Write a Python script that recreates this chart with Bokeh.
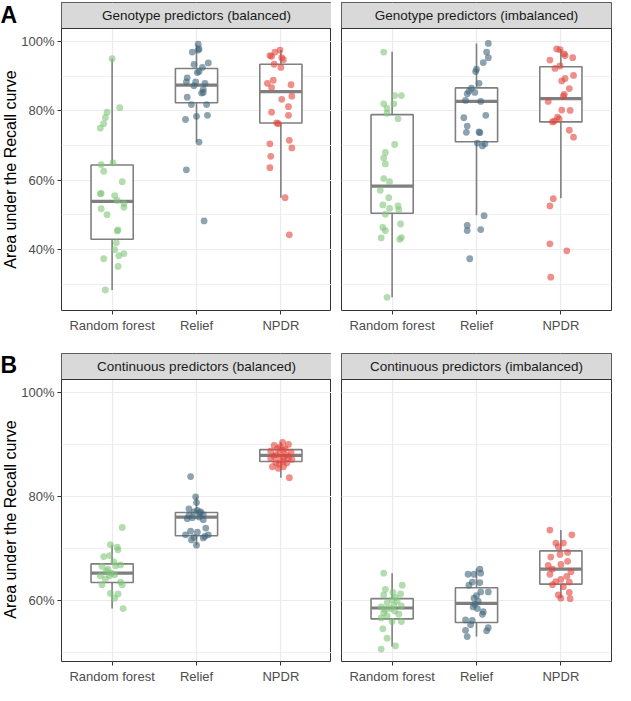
import math
from bokeh.plotting import figure
from bokeh.layouts import row, column
from bokeh.models import Range1d, FixedTicker, Span, PrintfTickFormatter
from bokeh.embed import file_html
from bokeh.resources import INLINE
from bokeh.core.properties import value

methods = ["Random forest", "Relief", "NPDR"]
facet_titles = ["Genotype predictors (balanced)", "Genotype predictors (imbalanced)",
                "Continuous predictors (balanced)", "Continuous predictors (imbalanced)"]
row_letters = ["A", "B"]
y_title = "Area under the Recall curve"

# ---- Genotype predictors (balanced): AUPRC in %, with horizontal jitter (category units)
gb_rf = [95.0, 80.9, 79.6, 78.1, 76.3, 75.0, 65.0, 64.5, 62.6, 59.6, 56.2, 56.1, 55.6, 54.2, 53.3,
         52.2, 51.8, 50.1, 45.7, 45.4, 42.0, 40.0, 38.9, 38.3, 37.4, 35.2, 28.4]
gb_rf_jit = [0.00, 0.09, -0.06, -0.08, -0.10, -0.14, 0.01, -0.13, -0.10, 0.12, -0.13, -0.14, 0.03, 0.06, 0.14,
             0.14, -0.13, -0.06, 0.07, 0.06, 0.05, 0.03, 0.14, 0.08, -0.10, 0.07, -0.08]
gb_rl = [99.2, 97.8, 97.5, 96.9, 93.8, 93.4, 92.5, 91.3, 91.0, 89.5, 88.3, 88.3, 87.9, 87.2, 86.2,
         85.3, 85.1, 83.9, 81.8, 81.8, 78.7, 78.4, 77.5, 71.0, 63.0, 48.3]
gb_rl_jit = [0.02, 0.03, 0.02, -0.05, 0.14, -0.03, 0.07, 0.03, 0.01, -0.11, -0.12, -0.01, 0.10, -0.03, 0.08,
             0.08, 0.06, -0.11, -0.06, 0.12, 0.13, 0.00, -0.13, 0.03, -0.12, 0.09]
gb_np = [97.5, 96.9, 95.9, 95.7, 95.3, 94.7, 93.4, 92.5, 88.8, 87.9, 87.5, 86.7, 84.2, 83.3, 81.2,
         79.6, 78.7, 76.5, 76.3, 71.5, 70.5, 69.3, 66.9, 63.6, 55.0, 44.3]
gb_np_jit = [-0.01, -0.07, -0.13, -0.11, 0.01, 0.03, -0.08, 0.00, -0.09, -0.16, 0.12, -0.11, 0.13, 0.01, 0.09,
             -0.11, 0.09, -0.05, -0.03, 0.10, -0.13, 0.13, -0.12, -0.13, 0.05, 0.10]
gb_lo = [28.4, 71.0, 55.0]
gb_q1 = [43.0, 82.3, 76.5]
gb_med = [53.9, 87.4, 85.5]
gb_q3 = [64.4, 92.2, 93.4]
gb_hi = [95.0, 99.2, 97.5]

# ---- Genotype predictors (imbalanced)
gi_rf = [96.9, 84.4, 84.4, 82.0, 82.0, 80.7, 79.3, 77.7, 70.3, 68.0, 66.4, 64.7, 60.5, 59.6, 57.1,
         55.0, 52.9, 52.6, 51.9, 51.5, 50.2, 47.4, 46.4, 45.5, 43.5, 43.4, 43.0, 26.3]
gi_rf_jit = [-0.10, 0.03, 0.11, -0.10, 0.02, -0.06, -0.06, 0.07, 0.03, -0.08, -0.10, -0.08, -0.10, -0.03, -0.14,
             -0.04, -0.11, 0.07, -0.03, 0.08, -0.08, 0.10, -0.11, -0.08, 0.11, -0.13, 0.09, -0.06]
gi_rl = [99.4, 96.9, 95.3, 93.9, 92.0, 91.3, 87.9, 86.5, 85.6, 85.3, 84.9, 83.0, 82.7, 78.7, 78.0,
         75.6, 73.9, 73.8, 73.7, 70.7, 70.5, 69.9, 49.8, 47.0, 45.8, 45.5, 37.4]
gi_rl_jit = [0.14, 0.12, 0.14, 0.08, 0.00, -0.01, 0.03, -0.06, -0.09, -0.02, -0.11, -0.13, 0.05, 0.11, -0.15,
             -0.11, 0.03, -0.12, 0.04, 0.01, 0.10, 0.07, 0.09, -0.11, 0.05, -0.11, -0.08]
gi_np = [97.8, 97.6, 96.4, 95.9, 95.3, 94.6, 92.9, 92.2, 90.2, 89.3, 88.6, 86.4, 84.7, 84.2, 82.7,
         80.2, 80.1, 78.2, 77.7, 77.0, 76.8, 74.4, 72.4, 54.7, 52.6, 41.7, 39.7, 32.1]
gi_np_jit = [-0.05, -0.01, 0.04, 0.05, 0.14, -0.13, -0.01, -0.07, 0.15, 0.05, 0.01, 0.10, 0.04, 0.03, -0.15,
             0.01, 0.11, -0.04, -0.02, -0.08, -0.10, 0.10, 0.15, -0.09, -0.13, -0.13, 0.07, -0.12]
gi_lo = [26.3, 49.9, 54.8]
gi_q1 = [50.5, 71.1, 76.8]
gi_med = [58.3, 82.7, 83.5]
gi_q3 = [78.9, 86.6, 92.7]
gi_hi = [97.0, 99.4, 97.8]

# ---- Continuous predictors (balanced)
cb_rf = [74.0, 70.7, 70.2, 69.7, 68.6, 68.4, 67.4, 66.8, 66.6, 66.5, 66.0, 65.6, 65.2, 64.9, 64.7,
         64.7, 64.1, 63.5, 63.0, 63.0, 61.3, 61.2, 60.4, 58.4]
cb_rf_jit = [0.12, -0.02, 0.06, 0.07, -0.03, -0.10, 0.02, 0.10, 0.04, -0.12, -0.05, -0.07, -0.01, 0.03, -0.03,
             -0.14, -0.08, 0.10, -0.12, 0.12, -0.02, 0.07, 0.03, 0.13]
cb_rl = [83.8, 79.9, 78.8, 77.6, 77.3, 77.0, 77.0, 76.8, 76.5, 76.3, 76.0, 75.9, 75.7, 75.5, 73.9,
         73.3, 73.1, 72.6, 72.6, 72.3, 72.1, 72.0, 71.6, 70.6]
cb_rl_jit = [-0.07, -0.01, 0.00, -0.09, 0.01, -0.03, 0.05, 0.04, 0.08, -0.09, 0.03, -0.05, -0.11, 0.08, 0.11,
             -0.07, 0.01, -0.13, 0.14, 0.10, -0.03, 0.08, -0.06, 0.00]
cb_np = [90.4, 90.0, 89.8, 89.5, 89.2, 89.2, 88.9, 88.7, 88.5, 88.2, 88.0, 87.9, 87.7, 87.6, 87.4,
         87.3, 87.1, 87.0, 86.8, 86.5, 86.4, 86.2, 85.7, 85.7, 85.4, 83.6]
cb_np_jit = [0.02, 0.09, -0.08, -0.01, -0.04, 0.05, 0.03, -0.12, 0.12, -0.01, -0.06, 0.07, -0.08, 0.03, 0.09,
             -0.12, 0.13, -0.01, 0.03, -0.06, 0.07, -0.02, -0.10, 0.03, -0.03, 0.10]
cb_lo = [58.4, 70.6, 83.6]
cb_q1 = [63.4, 72.4, 86.7]
cb_med = [65.2, 76.0, 87.9]
cb_q3 = [67.0, 76.9, 89.0]
cb_hi = [70.7, 79.9, 90.4]

# ---- Continuous predictors (imbalanced)
ci_rf = [65.2, 62.9, 62.1, 61.5, 61.2, 61.0, 60.5, 60.1, 59.8, 59.5, 59.0, 58.9, 58.7, 58.4, 58.2,
         57.9, 57.6, 57.3, 57.0, 56.6, 55.9, 55.9, 54.5, 52.7, 51.2, 50.6]
ci_rf_jit = [-0.10, 0.12, -0.08, 0.01, 0.10, -0.10, 0.04, 0.00, 0.06, -0.06, 0.02, 0.11, -0.13, -0.02, -0.08,
             0.03, -0.10, 0.08, -0.06, -0.13, 0.00, 0.11, -0.11, -0.06, 0.04, -0.13]
ci_rl = [66.0, 65.2, 65.0, 65.0, 63.5, 63.4, 62.9, 61.6, 61.6, 60.9, 60.4, 59.8, 59.2, 58.7, 58.4,
         57.8, 57.3, 56.2, 56.1, 55.3, 54.7, 54.2, 54.1, 53.0]
ci_rl_jit = [0.04, 0.05, -0.10, -0.03, -0.05, 0.04, -0.09, 0.14, 0.05, 0.00, -0.03, 0.02, -0.02, -0.04, 0.01,
             0.08, 0.07, -0.13, -0.05, -0.07, 0.14, -0.13, 0.12, -0.11]
ci_np = [73.5, 72.6, 71.0, 71.0, 70.3, 69.2, 68.8, 68.3, 67.5, 66.9, 66.7, 66.0, 65.5, 65.0, 64.6,
         64.0, 63.6, 63.5, 63.0, 62.6, 61.5, 61.0, 60.4, 60.3]
ci_np_jit = [-0.13, 0.13, -0.06, 0.03, -0.03, 0.08, -0.01, -0.12, 0.08, 0.00, -0.15, -0.10, 0.12, -0.13, 0.07,
             0.00, -0.06, 0.10, -0.10, 0.03, 0.10, -0.03, 0.00, 0.11]
ci_lo = [51.1, 53.0, 60.4]
ci_q1 = [56.4, 55.7, 63.1]
ci_med = [58.5, 59.4, 66.0]
ci_q3 = [60.3, 62.4, 69.5]
ci_hi = [65.2, 66.1, 73.5]

# axis settings per row
row_a_range = [22.5, 103.7]
row_b_range = [48.2, 102.5]
row_a_major = [40, 60, 80, 100]
row_a_minor = [30, 50, 70, 90]
row_b_major = [60, 80, 100]
row_b_minor = [50, 70, 90]

FONT = "Liberation Sans"
COLORS = ["#80c57a", "#41667a", "#e2443a"]
BOX_COLOR = "#7f7f7f"
FRAME_W = 270
DATA_H = 282
STRIP_H = 26
TOP_A = 2       # border above row A strip
BOTTOM = 24     # border below each panel (x tick labels)
TOP_B = 18      # border above row B strip
LEFT_W = 18     # width of the column holding letters and y title
AXIS_W = 42     # border for y tick labels


def make_panel(title, pts, jits, box, yr, major, minor, first_col, top_row):
    y0, y1 = yr
    upp = (y1 - y0) / DATA_H
    ytop = y1 + STRIP_H * upp
    p = figure(frame_width=FRAME_W, frame_height=DATA_H + STRIP_H,
               x_range=Range1d(0.4, 3.6), y_range=Range1d(y0, ytop),
               output_backend="svg", toolbar_location=None,
               min_border_left=AXIS_W if first_col else 10,
               min_border_right=0 if first_col else 2,
               min_border_top=TOP_A if top_row else TOP_B,
               min_border_bottom=BOTTOM)
    p.background_fill_color = "white"
    p.border_fill_color = "white"
    p.outline_line_color = "#333333"
    p.outline_line_width = 1

    # grid
    p.xgrid.ticker = FixedTicker(ticks=[1, 2, 3])
    p.ygrid.ticker = FixedTicker(ticks=major, minor_ticks=minor)
    p.xgrid.grid_line_color = "#ebebeb"
    p.ygrid.grid_line_color = "#ebebeb"
    p.xgrid.grid_line_width = 1.2
    p.ygrid.grid_line_width = 1.2
    p.ygrid.minor_grid_line_color = "#ebebeb"
    p.ygrid.minor_grid_line_width = 0.8

    # axes
    p.xaxis.ticker = FixedTicker(ticks=[1, 2, 3])
    p.xaxis.major_label_overrides = {1: methods[0], 2: methods[1], 3: methods[2]}
    p.yaxis.ticker = FixedTicker(ticks=major)
    p.yaxis.formatter = PrintfTickFormatter(format="%d%%")
    for ax in (p.xaxis[0], p.yaxis[0]):
        ax.axis_line_color = None
        ax.major_tick_line_color = "#333333"
        ax.major_tick_out = 4
        ax.major_tick_in = 0
        ax.minor_tick_line_color = None
        ax.major_label_text_font = FONT
        ax.major_label_text_font_size = "13px"
        ax.major_label_text_color = "#4d4d4d"
        ax.major_label_standoff = 3
    if not first_col:
        p.yaxis.visible = False

    # boxplots
    lo, q1, med, q3, hi = box
    xs = [1, 2, 3]
    p.segment(x0=xs, y0=q3, x1=xs, y1=hi, line_color=BOX_COLOR, line_width=1.6)
    p.segment(x0=xs, y0=q1, x1=xs, y1=lo, line_color=BOX_COLOR, line_width=1.6)
    p.quad(left=[x - 0.25 for x in xs], right=[x + 0.25 for x in xs], bottom=q1, top=q3,
           fill_color="white", line_color=BOX_COLOR, line_width=1.6)
    p.segment(x0=[x - 0.25 for x in xs], y0=med, x1=[x + 0.25 for x in xs], y1=med,
              line_color=BOX_COLOR, line_width=3.2)

    # jittered points
    for k in range(3):
        p.scatter(x=[k + 1 + j for j in jits[k]], y=pts[k], size=6.8,
                  fill_color=COLORS[k], fill_alpha=0.6, line_color=None)

    # facet strip
    p.quad(left=[0.4], right=[3.6], bottom=[y1], top=[ytop], fill_color="#d9d9d9", line_color=None)
    p.add_layout(Span(location=y1, dimension="width", line_color="#333333", line_width=1))
    p.text(x=[2], y=[(y1 + ytop) / 2], text=[title], text_align="center", text_baseline="middle",
           text_font=value(FONT), text_font_size="13.5px", text_color="#1a1a1a")
    return p


pA1 = make_panel(facet_titles[0], [gb_rf, gb_rl, gb_np], [gb_rf_jit, gb_rl_jit, gb_np_jit],
                 (gb_lo, gb_q1, gb_med, gb_q3, gb_hi), row_a_range, row_a_major, row_a_minor, True, True)
pA2 = make_panel(facet_titles[1], [gi_rf, gi_rl, gi_np], [gi_rf_jit, gi_rl_jit, gi_np_jit],
                 (gi_lo, gi_q1, gi_med, gi_q3, gi_hi), row_a_range, row_a_major, row_a_minor, False, True)
pB1 = make_panel(facet_titles[2], [cb_rf, cb_rl, cb_np], [cb_rf_jit, cb_rl_jit, cb_np_jit],
                 (cb_lo, cb_q1, cb_med, cb_q3, cb_hi), row_b_range, row_b_major, row_b_minor, True, False)
pB2 = make_panel(facet_titles[3], [ci_rf, ci_rl, ci_np], [ci_rf_jit, ci_rl_jit, ci_np_jit],
                 (ci_lo, ci_q1, ci_med, ci_q3, ci_hi), row_b_range, row_b_major, row_b_minor, False, False)

# left column: panel letters and y-axis titles, in pixel coordinates (y measured from top)
panel_h = DATA_H + STRIP_H
total_h = TOP_A + panel_h + BOTTOM + TOP_B + panel_h + BOTTOM
row_tops = [TOP_A, TOP_A + panel_h + BOTTOM + TOP_B]
left = figure(frame_width=LEFT_W, frame_height=total_h,
              x_range=Range1d(0, LEFT_W), y_range=Range1d(0, total_h),
              output_backend="svg", toolbar_location=None,
              min_border_left=0, min_border_right=0, min_border_top=0, min_border_bottom=0)
left.axis.visible = False
left.grid.visible = False
left.outline_line_color = None
left.background_fill_color = "white"
left.border_fill_color = "white"
left.text(x=[0, 0], y=[total_h - t + 1 for t in row_tops], text=row_letters,
          text_align="left", text_baseline="top", text_font=value(FONT),
          text_font_size="23px", text_font_style="bold", text_color="black")
left.text(x=[1, 1], y=[total_h - (t + STRIP_H + DATA_H / 2) for t in row_tops], text=[y_title, y_title],
          angle=math.pi / 2, text_align="center", text_baseline="top", text_font=value(FONT),
          text_font_size="16px", text_color="black")

layout = row(left, column(row(pA1, pA2), row(pB1, pB2)))
open("out.html", "w").write(file_html(layout, INLINE))
